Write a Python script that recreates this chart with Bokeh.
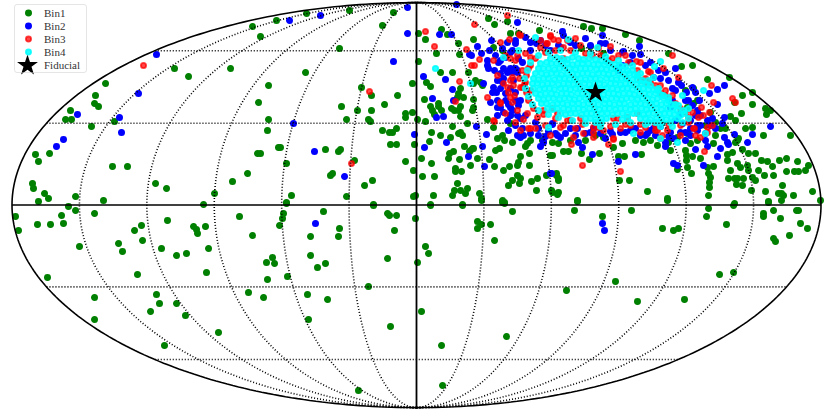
import math
from bokeh.embed import file_html
from bokeh.resources import INLINE
from bokeh.plotting import figure
from bokeh.models import Legend, LegendItem

# Points: (across, down) in picture units
bin1_read = [
(252,26),(260,36),(276,20),(174,68),(188,76),(230,68),(268,85),(105,83),(95,95),(94,103),(98,106),(70,110),(65,119),(71,119),(114,121),(91,126),(258,102),(268,119),(267,130),(278,147),(257,153),(260,153),(49,153),(35,154),(38,161),(112,166),(127,166),(247,173),(232,181),(32,183),(33,188),(155,183),(166,188),(214,193),(44,193),(48,198),(75,196),(38,201),(103,200),(68,206),(203,204),
(75,210),(61,215),(94,213),(15,216),(37,224),(50,224),(63,223),(18,230),(79,246),(47,277),(94,297),(94,319),(167,220),(141,225),(134,230),(142,240),(118,243),(122,251),(161,248),(176,255),(186,253),(193,226),(196,229),(197,233),(205,226),(208,248),(206,272),(137,274),(156,294),(159,303),(176,303),(150,311),(185,315),(218,332),(164,345),(239,216),(252,235),(283,213),(282,218),(279,225),(286,203),(323,211),(339,228),(338,236),(310,236),(310,255),(325,263),(317,267),(272,257),(266,262),(274,263),(287,276),(267,279),(248,292),(263,297),(307,294),(327,299),(308,319),(358,390),(368,286),(390,326),(373,205),(387,213),(389,215),(396,215),(415,218),(394,230),(387,258),(417,262),
(430,205),(462,205),(481,200),(502,202),(504,203),(512,211),(577,201),(574,210),(602,216),(631,210),(667,200),(708,208),(706,216),(733,205),(768,202),(781,200),(773,210),(763,213),(763,216),(780,218),(796,210),(798,210),(820,200),(800,223),(807,228),(789,235),(773,238),(775,241),(726,224),(662,228),(673,230),(678,228),(477,221),(481,224),(477,228),(490,224),(494,240),(425,246),(428,253),(719,274),(733,272),(615,281),(566,290),(637,301),(684,299),(421,311),(506,336),(441,345),(442,385),
(306,13),(349,10),(393,12),(382,25),(339,48),(305,72),(361,87),(371,95),(397,95),(384,104),(341,106),(371,110),(357,110),(346,119),(368,119),(370,121),(405,113),(405,117),(412,112),(417,119),(382,130),(396,128),(392,132),(389,132),(414,144),(390,144),(396,144),(325,149),(340,149),(338,151),(280,147),(286,163),(354,160),(405,161),(413,170),(332,173),(330,175),(372,180),(364,185),(291,195),(286,202),(346,196),(413,196),(415,195),(373,204),
(418,33),(425,39),(441,29),(447,34),(418,61),(412,83),(440,72),(452,72),(426,82),(430,86),(424,99),(438,103),(430,106),(432,110),(434,114),(438,106),(441,110),(451,108),(454,110),(460,106),(458,110),(460,116),(473,99),(472,110),(473,107),(460,88),(458,93),(457,97),(463,97),
(425,121),(452,126),(467,123),(487,119),(431,132),(440,135),(429,141),(450,137),(458,133),(460,132),(462,135),(464,146),(421,158),(431,163),(422,176),(434,176),(453,151),(449,153),(448,158),(459,159),(470,165),(472,148),(470,150),(473,148),(469,151),(477,158),(455,168),(455,171),(461,171),(457,183),(433,195),(430,204),(452,195),(454,190),(460,190),(467,188),(465,193),(479,193),(481,198),(462,204),(502,200),(504,202),(494,166),(489,159),(499,148),(495,150),(497,138),(502,135),(504,140),(512,142),(520,156),(518,162),(517,165),(509,166),(503,170),(529,153),(529,165),(527,143),(525,146),(530,140),(517,175),(520,178),(512,180),(508,185),(519,183),(531,181),(537,178),(536,190),(546,175),(556,173),(558,178),(551,190),(558,192),(542,140),(552,142),(558,143),
(488,18),(494,24),(507,21),(473,39),(458,43),(459,54),(436,53),(539,30),(518,33),(510,33),(493,47),(502,50),(475,80),(480,82),(468,72),(473,83),(482,85),(493,127),(510,115),(510,123),
(583,26),(591,28),(602,28),(625,34),(639,40),(581,48),(590,46),(603,53),(668,53),(681,66),(692,65),(729,77),(707,79),(685,90),(693,88),(742,95),(752,92),(734,102),(752,104),(741,113),(765,108),(770,110),(766,114),(730,116),(735,120),(745,128),(752,127),(763,135),(790,135),(697,100),(693,103),(687,107),(710,112),(720,128),
(727,154),(732,152),(742,149),(735,142),(738,138),(748,153),(755,153),(761,160),(767,161),(779,160),(786,158),(797,161),(808,165),(805,170),(798,171),(794,171),(786,171),(773,175),(764,175),(772,166),(758,170),(747,165),(748,170),(740,167),(737,163),(730,170),(727,160),(752,177),(755,180),(728,178),(734,178),(737,178),(743,178),(736,184),(742,185),(751,190),(782,185),(765,191),(778,193),(781,193),(783,195),(793,195),(812,191),(768,201),(734,203),(708,195),(709,187),(709,182),(710,177),(708,173),(713,166),(707,167),(691,173),(677,169),(687,167),(686,160),(686,155),(692,156),(700,158),(685,150),(713,143),(697,140),(690,143),(667,198),(647,191),(629,180),(619,180),(641,154),(624,156),(618,156),(599,153),(589,159),(581,153),(568,151),(563,151),(552,155),(550,155),(556,175),(558,180),(552,192),(557,194),(577,200),
(595,135),(603,137),(613,147),(622,143),(635,140),(643,142),(657,145),(677,137),(687,133),(737,140),(570,140),(585,140),(650,140),(668,142),(715,135),(725,128),(670,150),(705,125),(715,122),
]
bin2_read = [
(156,54),(138,93),(77,114),(119,117),(121,132),(63,139),(56,146),(315,223),(602,223),(604,230),
(289,20),(320,15),(407,7),(456,4),(407,33),(393,61),(293,123),(314,151),(344,176),(414,134),(424,147),(423,76),(445,79),(452,89),(432,98),(453,100),(436,117),(443,116),(439,34),(451,34),(517,22),(477,46),(481,53),(469,54),(471,55),(491,40),(489,50),(502,48),(515,40),(525,37),(507,42),(536,43),(483,83),(493,87),(476,126),(486,134),(446,142),(482,146),(468,156),(484,166),(508,130),(517,135),(523,135),(538,135),(543,141),(540,146),(550,173),(487,65),(488,68),(497,80),(502,82),(490,102),(497,107),(497,115),(500,107),(510,52),(518,58),(510,68),(517,70),(505,93),(510,115),(510,107),
(562,31),(602,35),(600,43),(639,46),(558,45),(623,51),(675,68),(681,85),(692,87),(717,89),(724,85),(709,93),(699,100),(717,104),(724,117),(770,126),(734,134),(752,134),(747,142),(724,137),(727,142),(720,148),(728,144),(717,156),(703,165),(695,149),(707,146),(635,154),(618,161),(592,154),(582,147),(578,142),(560,137),(673,163),(677,165),(551,173),(665,146),(665,142),(645,135),(605,138),
(622,52),(630,62),(622,65),(618,70),(675,90),(670,107),(675,120),(682,123),(690,128),(685,140),(697,130),(707,120),(705,133),(673,138),(653,128),(647,133),(625,132),(590,132),(577,128),(555,133),(552,123),(705,140),(722,123),(680,113),(697,110),(688,100),(672,100),(653,77),
(497,100),(487,60),(500,73),(505,57),(515,43),(512,110),(517,115),(520,137),(543,142),(557,135),(593,128),(620,132),(563,35),(560,47),(550,50),(517,72),(512,72),(520,100),
(522,62),(530,50),(545,45),(570,42),(590,45),(610,50),(632,55),(645,65),(660,78),(672,88),(685,100),(695,115),(697,125),(685,132),(670,132),(650,130),(630,130),(610,131),(570,128),(552,124),(535,122),(525,115),(518,105),(515,92),(513,80),(515,68),
(494,70),(498,62),(503,68),(492,92),(496,92),(503,78),(507,72),(500,88),(505,100),(508,104),(503,112),(507,120),(515,125),(522,128),(530,133),(538,128),(548,131),(565,133),(575,135),(600,133),(612,134),(635,128),(660,126),(668,136),(680,132),(690,120),(700,125),(712,118),(715,128),(700,115),(692,105),(678,82),(668,80),(658,70),(650,62),(640,54),(605,43),(585,38),(575,45),(540,40),(530,42),(512,50),(500,60),(495,55),(510,88),(515,100),(520,118),(545,136),(585,133),(640,135),(655,135),(690,135),(710,125),(686,92),(695,92),(665,72),
]
bin3_read = [
(143,65),(369,91),(351,163),(425,31),(434,46),(459,81),(455,101),(507,15),(474,24),(466,49),(479,59),(471,65),(474,65),(487,97),(494,121),(500,42),(509,39),(519,34),(550,36),(546,43),(540,47),(525,53),(493,60),(500,102),(530,128),(520,130),(550,135),(523,119),(510,97),(513,85),(512,77),(510,58),
(582,165),(620,171),(704,151),(571,144),(608,144),(613,139),(732,98),(735,102),(713,102),(709,112),(711,85),(678,77),(663,68),(672,55),(563,47),(553,39),(636,61),(640,62),(648,71),(645,82),(640,80),(650,82),(665,90),(660,93),(701,107),(698,117),(688,117),(694,128),(700,137),(707,132),(667,130),(657,130),(645,127),(630,125),(613,118),(593,127),(583,133),(563,125),(593,137),(557,113),(618,55),(608,60),(592,55),(563,58),(660,138),
(505,55),(520,35),(550,35),(547,43),(567,40),(515,60),(520,87),(512,102),(517,110),(527,113),(537,117),(543,110),(552,108),(567,120),(580,118),(613,138),(528,128),(573,137),(507,87),(500,103),(493,120),(530,90),(525,82),(522,87),(510,80),(593,132),(627,117),(617,118),(637,113),(580,45),(680,125),(693,128),(707,127),(662,135),(655,130),
(530,65),(535,58),(545,52),(555,50),(570,50),(585,53),(600,55),(612,58),(628,62),(637,70),(645,78),(655,85),(665,95),(675,103),(685,112),(688,122),(668,124),(655,125),(640,124),(625,124),(610,126),(598,127),(582,124),(570,120),(555,118),(543,114),(533,108),(528,100),(526,92),(524,84),(526,75),(528,68),
(497,75),(503,83),(508,92),(514,95),(519,78),(522,70),(517,55),(530,57),(540,40),(558,40),(575,38),(598,48),(610,46),(625,55),(650,72),(660,85),(672,95),(680,108),(692,112),(703,115),(712,125),(695,135),(680,135),(640,132),(620,128),(603,130),(575,128),(560,127),(545,125),(535,128),(515,122),(505,113),
]
bin4_read = [
(435,68),(470,83),(535,37),(503,57),(518,50),(548,127),(568,39),(597,47),(660,61),(654,66),(653,77),(703,90),(682,95),(688,108),(683,110),(633,133),(677,142),(660,138),(705,133),
(527,70),(530,62),(538,55),(548,52),(560,50),(575,52),(590,53),(605,56),(618,60),(632,65),(640,73),(648,80),(658,88),(668,97),(678,105),(684,113),(688,118),(682,122),(672,126),(660,126),(645,124),(630,122),(615,124),(600,126),(585,123),(572,120),(558,117),(548,114),(538,110),(532,104),(528,96),(525,88),(524,78),
(550,58),(556,57),(561,58),(567,59),(572,57),(578,58),(583,59),(589,58),(595,59),(601,60),(606,61),
(540,63),(546,62),(551,63),(556,63),(561,62),(567,63),(572,64),(577,63),(582,63),(588,63),(593,64),(598,64),(604,64),(609,63),(614,64),(620,65),(625,66),
(538,68),(543,68),(548,68),(554,69),(559,68),(564,68),(569,68),(575,69),(580,68),(585,68),(590,68),(596,69),(601,68),(606,69),(611,68),(616,68),(622,69),(627,70),(632,70),
(535,73),(541,73),(546,74),(551,73),(556,73),(561,74),(567,73),(572,73),(577,74),(582,73),(587,73),(592,74),(598,73),(603,73),(608,74),(613,73),(618,73),(624,74),(629,73),(634,74),(637,75),
(533,78),(538,79),(543,78),(548,78),(554,79),(559,78),(564,78),(569,79),(574,78),(580,78),(585,79),(590,78),(595,78),(600,79),(606,78),(611,78),(616,79),(621,78),(626,78),(632,79),(637,79),(642,80),
(532,83),(537,83),(542,84),(547,83),(552,83),(558,84),(563,83),(568,83),(573,84),(578,83),(584,83),(589,84),(594,83),(599,83),(604,84),(610,83),(615,83),(620,84),(625,83),(630,83),(636,84),(641,83),(646,84),(650,85),
(533,88),(539,89),(544,88),(549,88),(554,89),(560,88),(565,88),(570,89),(575,88),(580,88),(586,89),(591,88),(596,88),(601,89),(606,88),(612,88),(617,89),(622,88),(627,88),(632,89),(638,88),(643,88),(648,89),(653,89),(657,90),
(535,93),(540,94),(545,93),(551,93),(556,94),(561,93),(566,93),(571,94),(577,93),(582,93),(587,94),(592,93),(597,93),(603,94),(608,93),(613,93),(618,94),(623,93),(629,93),(634,94),(639,93),(644,93),(649,94),(655,93),(660,94),(663,95),
(538,98),(543,99),(548,98),(553,98),(559,99),(564,98),(569,98),(574,99),(579,98),(585,98),(590,99),(595,98),(600,98),(605,99),(611,98),(616,98),(621,99),(626,98),(631,98),(637,99),(642,98),(647,98),(652,99),(657,98),(663,98),(668,100),
(541,103),(546,103),(552,104),(557,103),(562,103),(567,104),(572,103),(578,103),(583,104),(588,103),(593,103),(598,104),(604,103),(609,103),(614,104),(619,103),(624,103),(630,104),(635,103),(640,103),(645,104),(650,103),(656,103),(661,104),(666,103),(671,104),(675,104),
(547,108),(552,109),(557,108),(563,108),(568,109),(573,108),(578,108),(583,109),(589,108),(594,108),(599,109),(604,108),(609,108),(615,109),(620,108),(625,108),(630,109),(635,108),(641,108),(646,109),(651,108),(656,108),(661,109),(667,108),(672,108),(677,110),
(560,113),(565,114),(570,113),(575,113),(581,114),(586,113),(591,113),(596,114),(601,113),(607,113),(612,114),(617,113),(622,113),(627,114),(633,113),(638,113),(643,114),(648,113),(653,113),(659,114),(664,113),(669,113),(674,114),(680,115),
(585,118),(590,118),(595,119),(601,118),(606,118),(622,119),(627,118),(640,118),(645,118),(650,119),(656,118),(661,118),(666,119),(671,118),(677,118),
(595,122),(601,122),(648,122),(655,122),(662,122),(670,122),
]
fiducial_read = [(595,92)]
legend_labels = ["Bin1", "Bin2", "Bin3", "Bin4", "Fiducial"]
parallels_deg = [-60, -30, 30, 60]
meridian_steps = [-5, -4, -3, -2, -1, 1, 2, 3, 4, 5]

W, H = 830, 414
CX, CY, A, B = 416.0, 204.6, 404.5, 202.5

def mx(px):
    return (px - CX) / A

def my(py):
    return (CY - py) / B

def columns(pairs):
    return [mx(a) for a, b in pairs], [my(b) for a, b in pairs]

bin1_x, bin1_y = columns(bin1_read)
bin2_x, bin2_y = columns(bin2_read)
bin3_x, bin3_y = columns(bin3_read)
bin4_x, bin4_y = columns(bin4_read)
fid_x, fid_y = columns(fiducial_read)

p = figure(width=W, height=H, x_range=(mx(0), mx(W)), y_range=(my(H), my(0)),
           x_axis_type=None, y_axis_type=None, toolbar_location=None,
           output_backend="svg", min_border=0, outline_line_color=None)
p.grid.visible = False

# marker size plus stroke gives the drawn diameter, in the legend as well
r1 = p.scatter(bin1_x, bin1_y, size=5.2, color="#008000", line_width=1.8)
r2 = p.scatter(bin2_x, bin2_y, size=5.2, color="#0000ff", line_width=1.8)
r3 = p.scatter(bin3_x, bin3_y, size=5.2, color="#ff0000", alpha=0.72, line_width=1.8)
r4 = p.scatter(bin4_x, bin4_y, size=5.4, color="#00ffff", alpha=0.84, line_width=1.8)

# Mollweide graticule
def theta_of(lat):
    t = math.radians(lat)
    for _ in range(30):
        t -= (2 * t + math.sin(2 * t) - math.pi * math.sin(math.radians(lat))) / (2 + 2 * math.cos(2 * t))
    return t

ts = [math.pi * (i / 200 - 0.5) for i in range(201)]
for k in meridian_steps:
    p.line([k / 6 * math.cos(t) for t in ts], [math.sin(t) for t in ts],
           line_color="black", line_width=1.6, line_dash="1 2")
for lat in parallels_deg:
    t = theta_of(lat)
    p.line([-math.cos(t), math.cos(t)], [math.sin(t), math.sin(t)],
           line_color="black", line_width=1.6, line_dash="1 2")
p.line([-1, 1], [0, 0], line_color="black", line_width=1.5)
p.line([0, 0], [-1, 1], line_color="black", line_width=1.8)
full = [2 * math.pi * i / 400 for i in range(401)]
p.line([math.cos(t) for t in full], [math.sin(t) for t in full], line_color="black", line_width=1.6)

r5 = p.scatter(fid_x, fid_y, marker="star", size=22, color="black", line_color=None)

# Large legend star: Bokeh sizes legend markers from the row box, so this one sits under the legend
p.scatter([mx(27)], [my(65)], marker="star", size=22, color="black", line_color=None)

legend = Legend(items=[LegendItem(label=l, renderers=[r]) for l, r in zip(legend_labels, [r1, r2, r3, r4, r5])],
                location=(14, H - 73), orientation="vertical", margin=0, padding=1,
                glyph_width=24, glyph_height=13, label_standoff=4, label_width=41, label_height=13,
                spacing=0, label_text_font="Liberation Serif", label_text_font_size="11px",
                label_text_color="#333333", border_line_color="#cccccc", border_line_width=1,
                background_fill_alpha=0)
if "border_radius" in legend.properties():
    legend.border_radius = 3
p.add_layout(legend)

open("out.html", "w").write(file_html(p, INLINE))
